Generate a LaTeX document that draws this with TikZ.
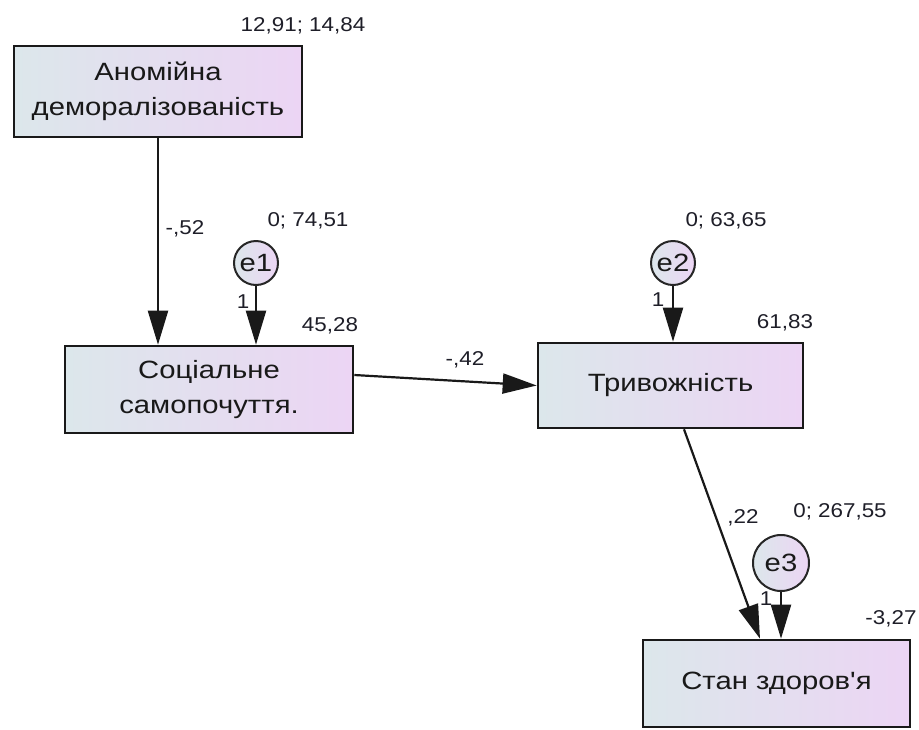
\documentclass[tikz,border=0pt]{standalone}
\usepackage{fontspec}
\setmainfont{Liberation Sans}
\newfontfamily\boxfont[FakeStretch=1.17]{Liberation Sans}
\newfontfamily\valfont[FakeStretch=1.12]{Liberation Sans}
\usetikzlibrary{arrows.meta}
\definecolor{gleft}{RGB}{220,231,235}
\definecolor{gright}{RGB}{236,213,244}
\definecolor{lbl}{RGB}{30,30,40}
\tikzset{
  varbox/.style={draw=black!90, line width=2.6pt, left color=gleft, right color=gright,
    inner sep=0pt, align=center, font=\boxfont\fontsize{25}{35}\selectfont, text=black!90},
  errc/.style={draw=black!85, line width=2pt, circle, left color=gleft, right color=gright,
    inner sep=0pt, font=\boxfont\fontsize{25}{25}\selectfont, text=black!90},
  val/.style={font=\valfont\fontsize{20}{20}\selectfont, text=lbl, inner sep=0pt},
  arr/.style={line width=2.2pt, draw=black!90, -{Triangle[length=34pt,width=20pt]}}
}
\begin{document}
\begin{tikzpicture}[x=1pt,y=-1pt]
\useasboundingbox (0,0) rectangle (919,729);
% boxes
\node[varbox, minimum width=288pt, minimum height=91pt] (b1) at (158,91.5) {Аномійна\\деморалізованість};
\node[varbox, minimum width=288pt, minimum height=87pt] (b2) at (209,389.5) {Соціальне\\самопочуття.};
\node[varbox, minimum width=265pt, minimum height=85pt] (b3) at (670.5,385.5) {Тривожність};
\node[varbox, minimum width=267pt, minimum height=87pt] (b4) at (776.5,683.5) {Стан здоров{\char"27}я};
% error circles
\node[errc, minimum size=44pt] (e1) at (256,263) {e1};
\node[errc, minimum size=44pt] (e2) at (673,263) {e2};
\node[errc, minimum size=56pt] (e3) at (781,563) {e3};
% connectors
\draw[arr] (b1.south) -- (b1.south |- b2.north);
\draw[arr] (e1.south) -- (e1.south |- b2.north);
\draw[arr] ([yshift=14.5pt]b2.east) -- (b3.west);
\draw[arr] (e2.south) -- (e2.south |- b3.north);
\draw[arr] ([xshift=13.5pt]b3.south) -- ([xshift=-16.5pt]b4.north);
\draw[arr] (e3.south) -- (e3.south |- b4.north);
% labels
\node[val] (l1) at (303,26) {12,91; 14,84};
\node[val] (l2) at (185,229) {-,52};
\node[val] (l3) at (308,221) {0; 74,51};
\node[val] (l4) at (243,302) {1};
\node[val] (l5) at (330,326) {45,28};
\node[val] (l6) at (465,360) {-,42};
\node[val] (l7) at (726,221) {0; 63,65};
\node[val] (l8) at (658,300) {1};
\node[val] (l9) at (785,323) {61,83};
\node[val] (l10) at (743,518) {,22};
\node[val] (l11) at (840,512) {0; 267,55};
\node[val] (l12) at (766,599) {1};
\node[val] (l13) at (891,619) {-3,27};
\end{tikzpicture}
\end{document}
